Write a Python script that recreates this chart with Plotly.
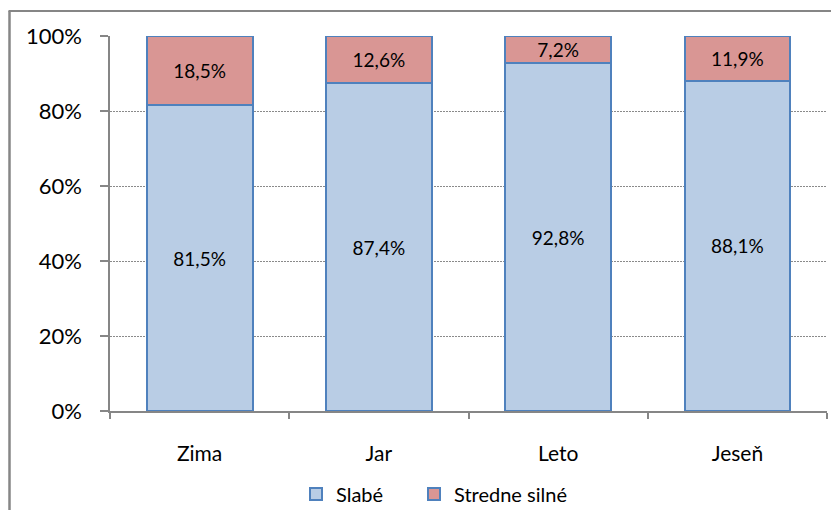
import plotly.graph_objects as go

seasons = ["Zima", "Jar", "Leto", "Jeseň"]
slabe = [81.5, 87.4, 92.8, 88.1]
stredne = [18.5, 12.6, 7.2, 11.9]
y_ticks = [0, 20, 40, 60, 80, 100]
y_tick_labels = ["0%", "20%", "40%", "60%", "80%", "100%"]

FONT = "Lato"
BORDER_BLUE = "#4F81BD"
GRAY = "#868686"

fig = go.Figure()
fig.add_trace(go.Bar(
    x=seasons, y=slabe, name="Slabé", legend="legend",
    marker=dict(color="#B9CDE5", line=dict(color=BORDER_BLUE, width=2)),
    texttemplate="%{y:.1f}%", textposition="inside", insidetextanchor="middle",
    constraintext="none", textfont=dict(family=FONT, size=19, color="black"),
))
fig.add_trace(go.Bar(
    x=seasons, y=stredne, name="Stredne silné", legend="legend2",
    marker=dict(color="#D99694", line=dict(color=BORDER_BLUE, width=2)),
    texttemplate="%{y:.1f}%", textposition="inside", insidetextanchor="middle",
    constraintext="none", textfont=dict(family=FONT, size=19, color="black"),
))

# page body adds an 8px offset; work in reference pixel coords
OFF = 8
W, H = 839 - OFF, 510 - OFF
L = 110 - OFF
T = 36 - OFF
R = W - (827 - OFF)
B = H - (411 - OFF)
pw = W - L - R
ph = H - T - B

def px_x(px):
    return (px - OFF - L) / pw

def px_y(py):
    return (H - B - (py - OFF)) / ph

legend_common = dict(
    orientation="h", xanchor="left", y=px_y(494), yanchor="middle",
    font=dict(family=FONT, size=20), itemwidth=30, bgcolor="rgba(0,0,0,0)",
)

fig.update_layout(
    width=W, height=H,
    margin=dict(l=L, r=R, t=T, b=B, autoexpand=False),
    barmode="stack", bargap=0.41,
    separators=", ",
    paper_bgcolor="white", plot_bgcolor="white",
    font=dict(family=FONT, color="black"),
    showlegend=True,
    legend=dict(x=px_x(296), **legend_common),
    legend2=dict(x=px_x(414), **legend_common),
    xaxis=dict(
        automargin=False,
        showline=True, linecolor=GRAY, linewidth=1.5,
        ticks="outside", tickson="boundaries", ticklen=6, tickcolor=GRAY, tickwidth=1.5,
        tickfont=dict(family=FONT, size=21), ticklabelstandoff=23,
        showgrid=False,
    ),
    yaxis=dict(
        automargin=False,
        range=[0, 100], tickmode="array", tickvals=y_ticks, ticktext=y_tick_labels,
        showline=True, linecolor=GRAY, linewidth=1.5,
        ticks="outside", ticklen=8, tickcolor=GRAY, tickwidth=1.5,
        tickfont=dict(family=FONT, size=22), ticklabelstandoff=14,
        showgrid=True, gridcolor="#8a8a8a", griddash="2px,1px", gridwidth=1,
        zeroline=False,
    ),
    shapes=[
        dict(type="line", xref="paper", yref="paper",
             x0=px_x(9.5), x1=px_x(9.5), y0=px_y(11), y1=px_y(540),
             line=dict(color=GRAY, width=2.5)),
        dict(type="line", xref="paper", yref="paper",
             x0=px_x(8.5), x1=px_x(860), y0=px_y(11), y1=px_y(11),
             line=dict(color=GRAY, width=2)),
    ],
)

fig.write_html("out.html")
